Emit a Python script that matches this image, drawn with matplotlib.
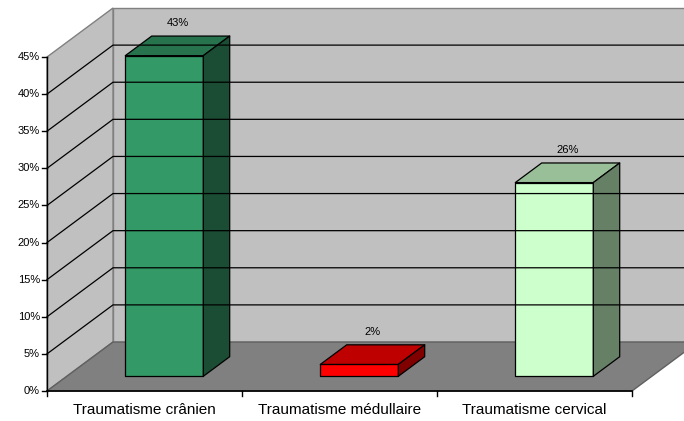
import matplotlib
matplotlib.use("Agg")
import matplotlib.pyplot as plt
from matplotlib.patches import Polygon

plt.rcParams["font.family"] = ["Liberation Sans", "DejaVu Sans"]

# data
categories = ["Traumatisme crânien", "Traumatisme médullaire", "Traumatisme cervical"]
values = [43.2, 1.6, 26.1]
labels = ["43%", "2%", "26%"]
front_cols = ["#339966", "#ff0000", "#ccffcc"]
top_cols = ["#26734d", "#bf0000", "#99bf99"]
side_cols = ["#1a4d33", "#800000", "#668066"]
yticks = [0, 5, 10, 15, 20, 25, 30, 35, 40, 45]

# layout of the pseudo-3D box (pixel coords)
X0, X1, Y0 = 47, 632, 391
PX = 334 / 45.0
DX, DY = 66, 49
NC = len(categories)

def proj(u, v, d):
    return (X0 + u * (X1 - X0) / NC + d * DX, Y0 - v * PX - d * DY)

fig = plt.figure(figsize=(6.84, 4.21), dpi=100)
ax = fig.add_axes([0, 0, 1, 1])
ax.set_xlim(0, 684); ax.set_ylim(421, 0); ax.axis("off")

vmax = yticks[-1]
wall = "#c0c0c0"; edge = "#808080"
# back wall, side wall, floor
ax.add_patch(Polygon([proj(0, 0, 1), proj(NC, 0, 1), proj(NC, vmax, 1), proj(0, vmax, 1)],
                     closed=True, fc=wall, ec=edge, lw=1))
ax.add_patch(Polygon([proj(0, 0, 0), proj(0, 0, 1), proj(0, vmax, 1), proj(0, vmax, 0)],
                     closed=True, fc=wall, ec=edge, lw=1))
ax.add_patch(Polygon([proj(0, 0, 0), proj(NC, 0, 0), proj(NC, 0, 1), proj(0, 0, 1)],
                     closed=True, fc="#808080", ec="#606060", lw=1))

# gridlines on walls
for t in yticks[1:-1]:
    a, b, c = proj(0, t, 0), proj(0, t, 1), proj(NC, t, 1)
    ax.plot([a[0], b[0], c[0]], [a[1], b[1], c[1]], color="black", lw=0.9)

# axes lines and ticks
a, b = proj(0, 0, 0), proj(0, vmax, 0)
ax.plot([a[0], b[0]], [a[1], b[1]], color="black", lw=1)
a, b = proj(0, 0, 0), proj(NC, 0, 0)
ax.plot([a[0], b[0]], [a[1], b[1]], color="black", lw=1.2)
for t in yticks:
    x, y = proj(0, t, 0)
    ax.plot([x - 5, x], [y, y], color="black", lw=1)
    ax.text(x - 7, y, f"{t}%", ha="right", va="center", fontsize=8)
for i in range(NC + 1):
    x, y = proj(i, 0, 0)
    ax.plot([x, x], [y, y + 5], color="black", lw=1)
for i, cat in enumerate(categories):
    x, y = proj(i + 0.5, 0, 0)
    ax.text(x, y + 19, cat, ha="center", va="center", fontsize=11)

# bars
for i, v in enumerate(values):
    u0, u1, d0, d1 = i + 0.3, i + 0.7, 0.3, 0.7
    front = [proj(u0, 0, d0), proj(u1, 0, d0), proj(u1, v, d0), proj(u0, v, d0)]
    top = [proj(u0, v, d0), proj(u1, v, d0), proj(u1, v, d1), proj(u0, v, d1)]
    side = [proj(u1, 0, d0), proj(u1, 0, d1), proj(u1, v, d1), proj(u1, v, d0)]
    for pts, col in ((front, front_cols[i]), (top, top_cols[i]), (side, side_cols[i])):
        ax.add_patch(Polygon(pts, closed=True, fc=col, ec="black", lw=0.9, joinstyle="round"))
    x, y = proj(i + 0.5, v, 0.5)
    ax.text(x, y - 23, labels[i], ha="center", va="center", fontsize=8)

fig.savefig("out.png", dpi=100)
